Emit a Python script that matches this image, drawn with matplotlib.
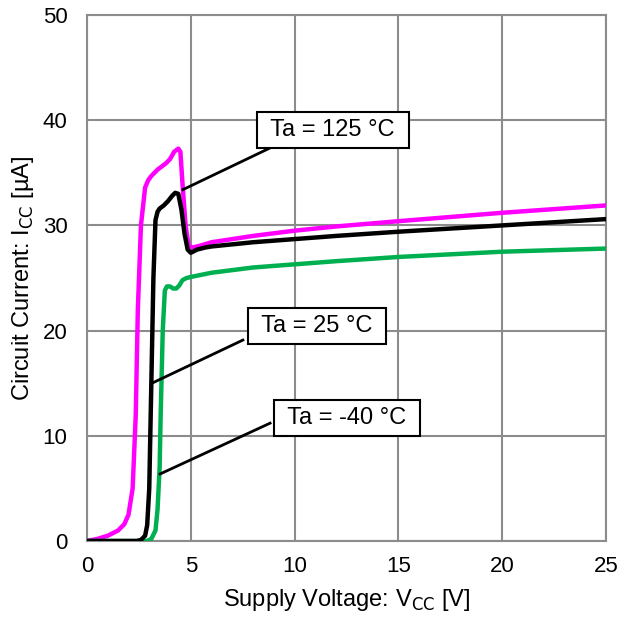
import matplotlib
matplotlib.use("Agg")
import matplotlib.pyplot as plt

plt.rcParams['font.family'] = ['Liberation Sans', 'DejaVu Sans']

# Ta = 125 °C (magenta)
v_125 = [0, 0.5, 1.0, 1.5, 1.8, 2.0, 2.2, 2.35, 2.45, 2.6, 2.8, 2.95, 3.1, 3.4, 3.8, 4.0, 4.2, 4.4, 4.5, 4.6, 4.75, 4.9, 5.1, 5.5, 6, 8, 10, 12, 15, 20, 25]
i_125 = [0, 0.2, 0.5, 1.0, 1.6, 2.5, 5.0, 12, 22, 30, 33.6, 34.3, 34.7, 35.3, 35.9, 36.3, 37.0, 37.3, 37.0, 34.0, 30.0, 28.0, 27.9, 28.1, 28.4, 29.0, 29.5, 29.9, 30.4, 31.2, 31.9]

# Ta = 25 °C (black)
v_25 = [0, 2.4, 2.6, 2.8, 2.9, 3.0, 3.1, 3.2, 3.3, 3.4, 3.5, 3.7, 3.9, 4.1, 4.25, 4.4, 4.55, 4.7, 4.85, 5.0, 5.3, 5.7, 6, 8, 10, 12, 15, 20, 25]
i_25 = [0, 0, 0.1, 0.5, 1.5, 5.0, 15.0, 25.0, 30.5, 31.3, 31.6, 31.9, 32.3, 32.8, 33.1, 33.0, 31.5, 29.2, 27.7, 27.4, 27.7, 27.9, 28.0, 28.4, 28.7, 29.0, 29.4, 30.0, 30.6]

# Ta = -40 °C (green)
v_m40 = [0, 2.9, 3.1, 3.3, 3.4, 3.5, 3.55, 3.65, 3.75, 3.85, 4.0, 4.15, 4.3, 4.45, 4.6, 4.8, 5.0, 5.5, 6, 8, 10, 12, 15, 20, 25]
i_m40 = [0, 0, 0.2, 1.0, 3.0, 7.0, 12.0, 20.0, 23.8, 24.2, 24.2, 24.0, 24.0, 24.3, 24.8, 25.0, 25.1, 25.3, 25.5, 26.0, 26.3, 26.6, 27.0, 27.5, 27.8]

x_ticks = [0, 5, 10, 15, 20, 25]
y_ticks = [0, 10, 20, 30, 40, 50]

labels = ['Ta = 125 °C', 'Ta = 25 °C', 'Ta = -40 °C']
label_pos = [(11.85, 39.07), (11.08, 20.4), (12.52, 11.7)]
leader_start = [(4.62, 33.4), (3.13, 15.0), (3.52, 6.37)]
leader_end = [(8.91, 37.45), (7.51, 19.1), (8.82, 11.2)]

fig = plt.figure(figsize=(6.23, 6.26), dpi=100)
ax = fig.add_axes([0.1396, 0.1358, 0.8331, 0.8402])

ax.plot(v_125, i_125, color='#ff00ff', lw=3.2, solid_joinstyle='round', zorder=3)
ax.plot(v_m40, i_m40, color='#00b050', lw=3.2, solid_joinstyle='round', zorder=3)
ax.plot(v_25, i_25, color='black', lw=3.2, solid_joinstyle='round', zorder=4)

ax.set_xlim(0, 25)
ax.set_ylim(0, 50)
ax.set_xticks(x_ticks)
ax.set_yticks(y_ticks)
ax.grid(True, color='#8c8c8c', lw=1.5, zorder=0)
for s in ax.spines.values():
    s.set_color('#8c8c8c')
    s.set_linewidth(1.5)
ax.tick_params(axis='both', length=0, labelsize=16)
ax.tick_params(axis='y', pad=14)
ax.tick_params(axis='x', pad=11)
ax.set_axisbelow(True)

for lab, pos, st, en in zip(labels, label_pos, leader_start, leader_end):
    ax.plot([st[0], en[0]], [st[1], en[1]], color='black', lw=2, zorder=5)
    ax.text(pos[0], pos[1], ' ' + lab + ' ', ha='center', va='center', fontsize=17, zorder=6,
            bbox=dict(boxstyle='square,pad=0.3', fc='white', ec='black', lw=1.5))

ax.set_xlabel('Supply Voltage: V$_{\\mathrm{CC}}$ [V]', fontsize=17, labelpad=7)
ax.set_ylabel('Circuit Current: I$_{\\mathrm{CC}}$ [µA]', fontsize=17, labelpad=5)

fig.savefig('out.png', dpi=100)
